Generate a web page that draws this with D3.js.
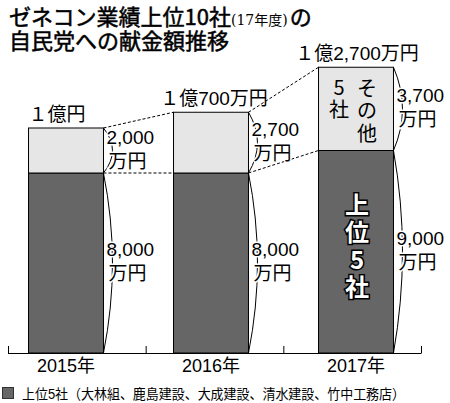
<!DOCTYPE html>
<html>
<head>
<meta charset="utf-8">
<script src="https://cdn.jsdelivr.net/npm/d3@7"></script>
<style>
  body { margin: 0; background: #fff; }
  svg { display: block; }
  text { font-family: "Liberation Sans", "Noto Sans CJK JP", sans-serif; fill: #000; }
</style>
</head>
<body>
<div id="chart"></div>
<script>
// values in 万円
var years = ["2015年", "2016年", "2017年"];
var top5 = [8000, 8000, 9000];
var others = [2000, 2700, 3700];
var totalLabels = ["１億円", "１億700万円", "１億2,700万円"];
var top5Labels = ["8,000", "8,000", "9,000"];
var otherLabels = ["2,000", "2,700", "3,700"];
var unitLabel = "万円";
var legendText = "上位5社（大林組、鹿島建設、大成建設、清水建設、竹中工務店）";

var width = 450, height = 403;
var dark = "#666666", light = "#e6e6e6";

var svg = d3.select("#chart").append("svg")
    .attr("width", width)
    .attr("height", height);

// title (medium weight: regular glyphs with a thin stroke)
var t1 = svg.append("text").attr("x", 9).attr("y", 25)
    .style("font-size", "22px")
    .attr("stroke", "#000").attr("stroke-width", 0.5)
    .style("font-family", "'Noto Sans CJK JP', sans-serif");
t1.append("tspan").text("ゼネコン業績上位10社");
t1.append("tspan").text("(17年度)")
    .attr("stroke-width", 0)
    .style("font-size", "14px")
    .style("font-family", "'DejaVu Serif', 'Noto Sans CJK JP', serif");
t1.append("tspan").attr("dx", 2).text("の");
svg.append("text").attr("x", 9).attr("y", 49)
    .style("font-size", "22px")
    .attr("stroke", "#000").attr("stroke-width", 0.5)
    .style("font-family", "'Noto Sans CJK JP', sans-serif")
    .text("自民党への献金額推移");

// scales
var x = d3.scaleBand()
    .domain(years)
    .range([-6.5, 428.5])
    .paddingInner(0.483)
    .paddingOuter(0.2415);

var xAxisBand = d3.scaleBand()
    .domain(years)
    .range([8, 421]);

var y = d3.scaleLinear()
    .domain([0, 10000])
    .range([353, 128]);

var data = years.map(function (d, i) {
    return { year: d, top5: top5[i], others: others[i], total: top5[i] + others[i], i: i };
});

// dashed connectors between bars
var dash = svg.append("g")
    .attr("stroke", "#000")
    .attr("stroke-width", 1)
    .attr("stroke-dasharray", "3,2");
for (var i = 0; i < data.length - 1; i++) {
    var a = data[i], b = data[i + 1];
    var xa = x(a.year) + x.bandwidth(), xb = x(b.year);
    dash.append("line")
        .attr("x1", xa).attr("y1", y(a.total))
        .attr("x2", xb).attr("y2", y(b.total));
    dash.append("line")
        .attr("x1", xa).attr("y1", y(a.top5))
        .attr("x2", xb).attr("y2", y(b.top5));
}

// bars
var bars = svg.append("g");
bars.selectAll(".bar-top5")
    .data(data).enter().append("rect")
    .attr("x", function (d) { return x(d.year); })
    .attr("y", function (d) { return y(d.top5); })
    .attr("width", x.bandwidth())
    .attr("height", function (d) { return y(0) - y(d.top5); })
    .attr("fill", dark).attr("stroke", "#000").attr("stroke-width", 1);
bars.selectAll(".bar-others")
    .data(data).enter().append("rect")
    .attr("x", function (d) { return x(d.year); })
    .attr("y", function (d) { return y(d.total); })
    .attr("width", x.bandwidth())
    .attr("height", function (d) { return y(d.top5) - y(d.total); })
    .attr("fill", light).attr("stroke", "#000").attr("stroke-width", 1);

// braces and value labels
var braces = svg.append("g").attr("fill", "none").attr("stroke", "#000").attr("stroke-width", 1);
var labels = svg.append("g");

function brace(xr, y0, y1, txt) {
    var mid = (y0 + y1) / 2;
    braces.append("path")
        .attr("d", "M" + xr + "," + y0 + "Q" + (xr + 18) + "," + mid + " " + xr + "," + y1);
    [txt, unitLabel].forEach(function (s, k) {
        labels.append("text")
            .attr("x", xr + (k === 0 ? 3 : 5))
            .attr("y", mid - 7 + k * 24)
            .attr("stroke", "#fff").attr("stroke-width", 3)
            .attr("paint-order", "stroke")
            .style("font-size", "19px")
            .text(s);
    });
}

data.forEach(function (d) {
    var xr = x(d.year) + x.bandwidth();
    brace(xr, y(d.total), y(d.top5), otherLabels[d.i]);
    brace(xr, y(d.top5), y(0), top5Labels[d.i]);
});

// totals above bars
var totalDx = [-9, 3, 1];
svg.append("g").selectAll("text")
    .data(data).enter().append("text")
    .attr("x", function (d) { return x(d.year) + x.bandwidth() / 2 + totalDx[d.i]; })
    .attr("y", function (d) { return y(d.total) - 7; })
    .attr("text-anchor", "middle")
    .style("font-size", "19px")
    .text(function (d) { return totalLabels[d.i]; });

// vertical labels inside the 2017 bar
var last = data[data.length - 1];
var cx = x(last.year) + x.bandwidth() / 2;
function vertical(str, colX, startY, step, opts) {
    str.split("").forEach(function (ch, k) {
        var t = svg.append("text")
            .attr("x", colX)
            .attr("y", startY + k * step)
            .attr("text-anchor", "middle")
            .attr("dominant-baseline", "central")
            .style("font-size", opts.size + "px")
            .style("font-family", "'Noto Sans CJK JP', sans-serif")
            .text(ch);
        if (opts.outline) {
            t.style("font-weight", "bold")
                .style("fill", "#fff")
                .attr("stroke", "#000").attr("stroke-width", 3)
                .attr("paint-order", "stroke");
        }
    });
}
vertical("その他", cx + 11, y(last.total) + 20, 22.5, { size: 20 });
vertical("5社", cx - 17, y(last.total) + 19, 22, { size: 20 });
vertical("上位5社", cx + 1, y(last.top5) + 53, 27.3, { size: 24, outline: true });

// x axis
var axis = svg.append("g").attr("stroke", "#000").attr("stroke-width", 1);
axis.append("line")
    .attr("x1", xAxisBand.range()[0]).attr("x2", xAxisBand.range()[1])
    .attr("y1", y(0) + 0.5).attr("y2", y(0) + 0.5);
var tickXs = years.map(function (d) { return xAxisBand(d); }).concat([xAxisBand.range()[1]]);
axis.selectAll(".tick").data(tickXs).enter().append("line")
    .attr("x1", function (d) { return d + 0.5; }).attr("x2", function (d) { return d + 0.5; })
    .attr("y1", y(0) - 7).attr("y2", y(0) + 0.5);

svg.append("g").selectAll("text")
    .data(data).enter().append("text")
    .attr("x", function (d) { return x(d.year) + x.bandwidth() / 2; })
    .attr("y", 372)
    .attr("text-anchor", "middle")
    .style("font-size", "18px")
    .text(function (d) { return d.year; });

// legend
svg.append("rect")
    .attr("x", 2.5).attr("y", 387.5).attr("width", 11).attr("height", 11)
    .attr("fill", dark).attr("stroke", "#333");
svg.append("text")
    .attr("x", 22).attr("y", 399)
    .attr("textLength", 383).attr("lengthAdjust", "spacingAndGlyphs")
    .style("font-size", "14px")
    .text(legendText);
</script>
</body>
</html>
